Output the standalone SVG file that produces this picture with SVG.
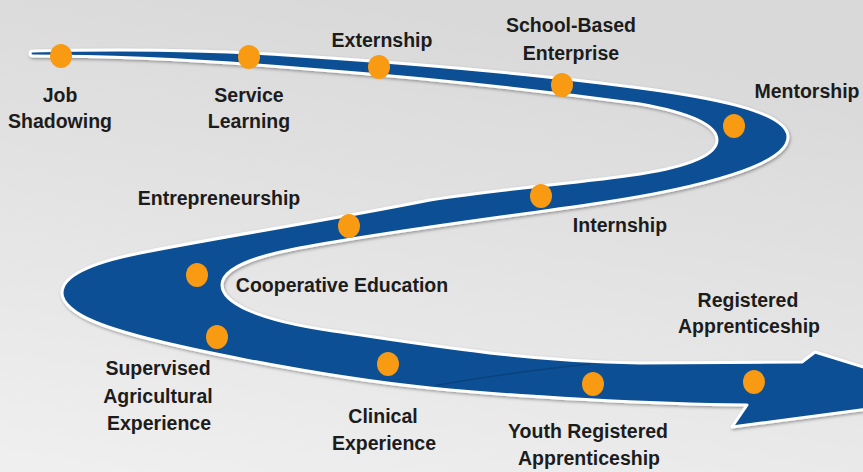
<svg xmlns="http://www.w3.org/2000/svg" width="863" height="472" viewBox="0 0 863 472">
  <defs>
    <linearGradient id="bg" x1="0.4" y1="0" x2="0.1" y2="1">
      <stop offset="0" stop-color="#d9d9d9"/>
      <stop offset="1" stop-color="#efefef"/>
    </linearGradient>
    <filter id="shadow" x="-5%" y="-5%" width="110%" height="115%">
      <feDropShadow dx="1" dy="1.5" stdDeviation="1.5" flood-color="#000" flood-opacity="0.35"/>
    </filter>
    <style>
      .lbl { font-family: "Liberation Sans", Arial, sans-serif; font-weight: bold; font-size: 19.5px; fill: #1c1c1c; text-anchor: middle; }
      .dot { fill: #f89a12; }
      .ribbon { fill: #0b4f94; stroke: #ffffff; stroke-width: 3; stroke-linejoin: round; }
    </style>
  </defs>

  <rect x="0" y="0" width="863" height="472" fill="url(#bg)"/>

  <g id="connectors">
    <path class="ribbon" filter="url(#shadow)" d="M 33,51 C 120,49 220,50 300,56 C 390,62 520,72 640,88 C 700,96 788,110 788,137 C 788,165 700,188 600,203 C 500,218 380,232 290,250 C 250,258 222,270 222,285 C 222,302 255,320 333,331 C 430,345 520,361 640,363 L 802,362 L 815,352 L 905,380 L 905,404 L 732,427 L 747,405 C 650,404 520,397 430,388 C 330,378 150,345 95,322 C 75,314 62,303 62,293 C 62,278 85,264 140,253 C 220,237 330,220 430,200 C 500,189 580,183 640,174 C 690,166 717,155 717,140 C 717,125 690,113 640,104 C 580,96 450,80 320,70 C 230,62 130,56 33,56 C 29,56 29,51 33,51 Z"/>
    <path d="M 436,385.5 Q 505,373 590,364" fill="none" stroke="#073a70" stroke-width="1.5" opacity="0.6"/>
  </g>

  <g id="job-shadowing">
    <ellipse class="dot" cx="61" cy="56" rx="11" ry="12"/>
    <text class="lbl" x="60" y="102">Job</text>
    <text class="lbl" x="60" y="128">Shadowing</text>
  </g>
  <g id="service-learning">
    <ellipse class="dot" cx="249" cy="57" rx="11" ry="12"/>
    <text class="lbl" x="249" y="102">Service</text>
    <text class="lbl" x="249" y="128">Learning</text>
  </g>
  <g id="externship">
    <ellipse class="dot" cx="379" cy="67" rx="11" ry="12"/>
    <text class="lbl" x="382" y="47">Externship</text>
  </g>
  <g id="school-based-enterprise">
    <ellipse class="dot" cx="562" cy="85" rx="11" ry="12"/>
    <text class="lbl" x="571" y="32">School-Based</text>
    <text class="lbl" x="571" y="60">Enterprise</text>
  </g>
  <g id="mentorship">
    <ellipse class="dot" cx="734" cy="126" rx="11" ry="12"/>
    <text class="lbl" x="807" y="98">Mentorship</text>
  </g>
  <g id="internship">
    <ellipse class="dot" cx="541" cy="196" rx="11" ry="12"/>
    <text class="lbl" x="620" y="232">Internship</text>
  </g>
  <g id="entrepreneurship">
    <ellipse class="dot" cx="349" cy="226" rx="11" ry="12"/>
    <text class="lbl" x="219" y="205">Entrepreneurship</text>
  </g>
  <g id="cooperative-education">
    <ellipse class="dot" cx="197" cy="275" rx="11" ry="12"/>
    <text class="lbl" x="342" y="292">Cooperative Education</text>
  </g>
  <g id="supervised-agricultural-experience">
    <ellipse class="dot" cx="217" cy="337" rx="11" ry="12"/>
    <text class="lbl" x="158" y="375">Supervised</text>
    <text class="lbl" x="158" y="403">Agricultural</text>
    <text class="lbl" x="159" y="430">Experience</text>
  </g>
  <g id="clinical-experience">
    <ellipse class="dot" cx="388" cy="364" rx="11" ry="12"/>
    <text class="lbl" x="383" y="423">Clinical</text>
    <text class="lbl" x="384" y="450">Experience</text>
  </g>
  <g id="youth-registered-apprenticeship">
    <ellipse class="dot" cx="593" cy="384" rx="11" ry="12"/>
    <text class="lbl" x="588" y="438">Youth Registered</text>
    <text class="lbl" x="589" y="465">Apprenticeship</text>
  </g>
  <g id="registered-apprenticeship">
    <ellipse class="dot" cx="754" cy="382" rx="11" ry="12"/>
    <text class="lbl" x="748" y="307">Registered</text>
    <text class="lbl" x="749" y="333">Apprenticeship</text>
  </g>
</svg>
